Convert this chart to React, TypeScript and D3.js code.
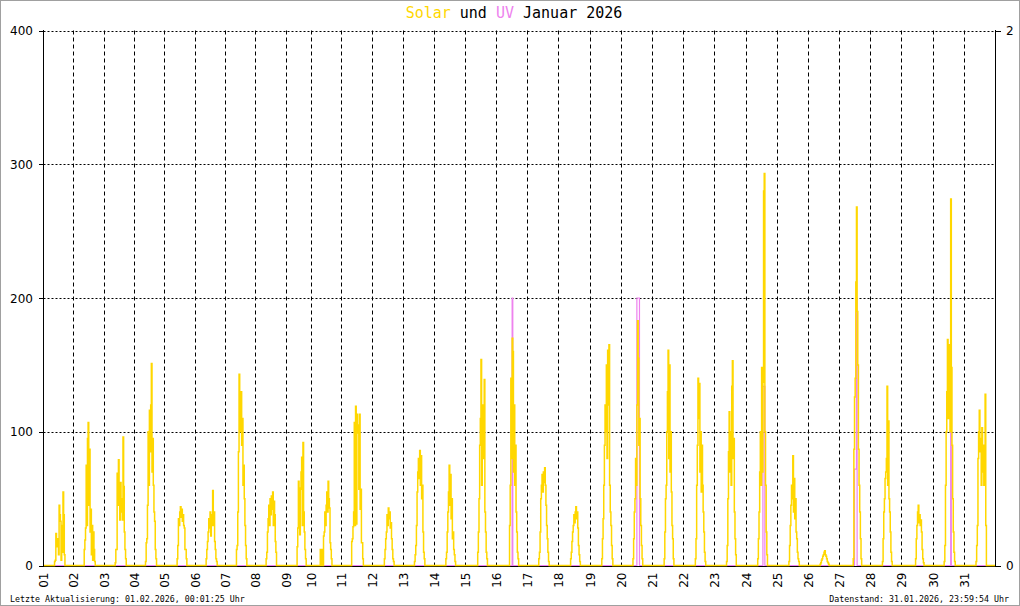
import React, { useEffect, useRef } from 'react';
import * as d3 from 'd3';

// day tick labels (gridline at the start of each day)
const dayLabels = [
  '01', '02', '03', '04', '05', '06', '07', '08', '09', '10', '11', '12', '13', '14', '15', '16',
  '17', '18', '19', '20', '21', '22', '23', '24', '25', '26', '27', '28', '29', '30', '31',
];

// number of 10-minute records stored per day (some days are incomplete)
const recordsPerDay = [
  140, 140, 140, 140, 140, 140, 140, 140, 116, 142, 142, 142, 142, 144, 144, 144,
  144, 144, 144, 144, 144, 144, 144, 144, 144, 144, 144, 144, 144, 144, 144,
];

const leftTicks = [0, 100, 200, 300, 400];
const rightTicks = [0, 2];

// solar radiation W/m², half-hour steps starting 07:00 each day
const solar: number[][] = [
  [0, 0, 0, 3, 4, 24, 14, 18, 20, 8, 45, 38, 33, 4, 30, 10, 55, 38, 8, 0],
  [0, 0, 12, 19, 28, 75, 30, 95, 107, 45, 87, 25, 42, 8, 30, 4, 25, 12, 3, 0],
  [0, 0, 0, 2, 12, 12, 69, 45, 79, 62, 34, 62, 40, 50, 34, 96, 59, 25, 12, 5, 0],
  [0, 0, 0, 3, 17, 20, 45, 100, 60, 116, 85, 120, 151, 70, 95, 60, 40, 33, 12, 5, 0],
  [0, 0, 0, 0, 0, 5, 15, 35, 30, 40, 44, 36, 42, 33, 38, 30, 28, 12, 12, 5, 0],
  [0, 0, 0, 5, 12, 18, 25, 35, 28, 40, 22, 30, 38, 56, 30, 40, 18, 12, 5, 3, 0],
  [0, 0, 0, 12, 15, 40, 85, 143, 120, 100, 130, 90, 110, 60, 75, 50, 30, 15, 5, 0],
  [0, 0, 5, 10, 25, 35, 45, 30, 50, 38, 52, 42, 55, 30, 48, 38, 18, 10, 0],
  [0, 0, 0, 14, 28, 63, 58, 23, 57, 70, 81, 30, 92, 40, 25, 12, 5, 0],
  [12, 0, 12, 10, 0, 22, 25, 40, 30, 45, 55, 40, 63, 50, 43, 17, 12, 5, 0],
  [0, 18, 20, 29, 40, 107, 30, 119, 31, 113, 99, 105, 57, 113, 42, 57, 17, 17, 5, 0],
  [0, 0, 0, 0, 5, 12, 20, 25, 38, 30, 43, 35, 40, 28, 32, 20, 12, 5, 3, 0],
  [0, 0, 0, 3, 8, 15, 30, 55, 70, 80, 65, 86, 60, 82, 50, 60, 25, 10, 5, 0],
  [0, 0, 0, 0, 5, 10, 25, 40, 55, 75, 45, 68, 35, 50, 20, 25, 12, 8, 3, 0],
  [0, 0, 0, 0, 0, 10, 25, 50, 90, 110, 154, 60, 120, 80, 100, 139, 40, 25, 10, 5, 0],
  [0, 0, 0, 0, 0, 0, 30, 60, 140, 80, 170, 160, 70, 120, 60, 90, 40, 25, 10, 5, 0],
  [0, 0, 0, 5, 10, 25, 50, 60, 68, 55, 70, 62, 73, 60, 45, 30, 20, 10, 3, 0],
  [0, 0, 0, 0, 5, 10, 18, 25, 30, 38, 32, 40, 44, 35, 40, 28, 15, 8, 3, 0],
  [0, 0, 0, 0, 5, 20, 35, 60, 90, 120, 100, 150, 80, 161, 120, 165, 60, 40, 30, 15, 5, 0],
  [0, 0, 0, 0, 5, 20, 40, 50, 80, 60, 120, 183, 155, 90, 110, 50, 30, 15, 5, 0],
  [0, 0, 0, 0, 5, 25, 50, 60, 100, 130, 161, 80, 150, 70, 100, 55, 30, 20, 5, 0],
  [0, 0, 0, 0, 5, 20, 60, 90, 140, 110, 136, 70, 100, 55, 90, 60, 40, 25, 10, 3, 0],
  [0, 0, 0, 0, 3, 15, 50, 85, 115, 70, 100, 60, 134, 153, 80, 95, 40, 20, 8, 0],
  [0, 0, 0, 0, 5, 20, 40, 70, 100, 60, 148, 70, 137, 280, 293, 100, 60, 25, 8, 0],
  [0, 0, 0, 0, 3, 15, 30, 45, 60, 50, 82, 40, 65, 35, 50, 25, 20, 10, 5, 3, 0],
  [0, 0, 0, 0, 1, 2, 4, 5, 7, 8, 10, 11, 8, 7, 5, 3, 2, 1, 0],
  [0, 0, 0, 0, 0, 0, 0, 5, 87, 126, 140, 212, 268, 190, 150, 87, 60, 40, 20, 5, 0],
  [0, 0, 0, 0, 3, 20, 40, 50, 65, 70, 80, 134, 60, 108, 50, 40, 25, 10, 3, 0],
  [0, 0, 0, 0, 0, 0, 0, 5, 20, 30, 40, 45, 32, 38, 30, 34, 25, 12, 5, 2, 0],
  [0, 0, 0, 3, 15, 60, 100, 130, 169, 110, 150, 165, 100, 274, 148, 90, 50, 25, 10, 3, 0],
  [0, 0, 0, 0, 3, 15, 30, 80, 100, 116, 85, 95, 60, 103, 70, 90, 60, 80, 128, 30, 0],
];

// UV index, same half-hour steps from 07:00 (empty = 0 all day)
const uv: number[][] = [
  [], [], [], [], [], [], [], [], [], [], [], [], [], [], [],
  [0, 0, 0, 0, 0, 0, 0, 0, 0, 0, 1.0, 0],
  [], [], [],
  [0, 0, 0, 0, 0, 0, 0, 0, 0, 0, 1.0, 1.0, 1.0, 1.0, 0],
  [], [], [],
  [0, 0, 0, 0, 0, 0, 0, 0, 0, 0, 0, 0, 0.67, 0.67, 0.67, 0],
  [], [],
  [0, 0, 0, 0, 0, 0, 0, 0, 0, 0.36, 0.36, 0.36, 1.0, 0],
  [], [],
  [0, 0, 0, 0, 0, 0, 0, 0, 0, 0, 0, 0, 0, 0.5, 0],
  [],
];

const FIRST_HOUR = 7;
const STEP_HOURS = 0.5;
const RECORDS_PER_HOUR = 6;

const W = 1020;
const H = 606;
const YELLOW = '#FFD700';
const VIOLET = '#EE82EE';

interface Pt { t: number; v: number; }

const dayStarts: number[] = [];
recordsPerDay.forEach((n, i) => dayStarts.push(i === 0 ? 0 : dayStarts[i - 1] + recordsPerDay[i - 1]));
const totalRecords = d3.sum(recordsPerDay);

function buildSeries(values: number[][]): Pt[] {
  const pts: Pt[] = [{ t: 0, v: 0 }];
  values.forEach((day, d) => {
    day.forEach((v, i) => {
      pts.push({ t: dayStarts[d] + (FIRST_HOUR + i * STEP_HOURS) * RECORDS_PER_HOUR, v });
    });
  });
  pts.push({ t: totalRecords, v: 0 });
  return pts;
}

const App: React.FC = () => {
  const svgRef = useRef<SVGSVGElement>(null);

  useEffect(() => {
    if (!svgRef.current) return;
    const svg = d3.select(svgRef.current);
    svg.selectAll('*').remove();

    const left = 43.5, right = 995.5, top = 30.5, bottom = 565.5;

    const x = d3.scaleLinear().domain([0, totalRecords]).range([left, right]);
    const y = d3.scaleLinear().domain([0, 400]).range([bottom, top]);
    const yUv = d3.scaleLinear().domain([0, 2]).range([bottom, top]);
    const crisp = (v: number) => Math.floor(v) + 0.5;

    svg.append('rect').attr('width', W).attr('height', H).attr('fill', '#fff');
    svg.append('rect')
      .attr('x', 0.5).attr('y', 0.5).attr('width', W - 1).attr('height', H - 1)
      .attr('fill', 'none').attr('stroke', '#a0a0a0');

    // Title
    const title = svg.append('text')
      .attr('x', 514).attr('y', 18)
      .attr('text-anchor', 'middle')
      .style('font-family', 'DejaVu Sans Mono')
      .style('font-size', '15px')
      .style('white-space', 'pre');
    title.append('tspan').attr('fill', YELLOW).text('Solar');
    title.append('tspan').attr('fill', '#000').text(' und ');
    title.append('tspan').attr('fill', VIOLET).text('UV');
    title.append('tspan').attr('fill', '#000').text(' Januar 2026');

    // Grid lines
    const grid = svg.append('g');
    grid.selectAll('.hgrid')
      .data(leftTicks.filter(t => t > 0))
      .enter().append('line')
      .attr('x1', left).attr('x2', right)
      .attr('y1', d => crisp(y(d) + 0.5)).attr('y2', d => crisp(y(d) + 0.5))
      .attr('stroke', '#000').attr('stroke-dasharray', '2,2');

    grid.selectAll('.vgrid')
      .data(dayStarts.slice(1))
      .enter().append('line')
      .attr('x1', d => crisp(x(d))).attr('x2', d => crisp(x(d)))
      .attr('y1', top).attr('y2', bottom + 1)
      .attr('stroke', '#000').attr('stroke-dasharray', '4,3');

    // Bottom axis sits one pixel under the zero line of the data
    svg.append('line')
      .attr('x1', left).attr('x2', right)
      .attr('y1', bottom + 1).attr('y2', bottom + 1)
      .attr('stroke', '#000');

    // UV line (right axis)
    const uvLine = d3.line<Pt>()
      .x(d => x(d.t))
      .y(d => yUv(d.v))
      .curve(d3.curveStepAfter);
    svg.append('path')
      .datum(buildSeries(uv))
      .attr('fill', 'none')
      .attr('stroke', VIOLET)
      .attr('stroke-width', 1.2)
      .attr('d', uvLine);

    // Solar line (left axis)
    const solarLine = d3.line<Pt>()
      .x(d => x(d.t))
      .y(d => y(d.v))
      .curve(d3.curveStepAfter);
    svg.append('path')
      .datum(buildSeries(solar))
      .attr('fill', 'none')
      .attr('stroke', YELLOW)
      .attr('stroke-width', 1.5)
      .attr('d', solarLine);

    // Axes
    const axes = svg.append('g').attr('stroke', '#000').attr('shape-rendering', 'crispEdges');
    axes.append('line').attr('x1', left).attr('x2', left).attr('y1', top - 0.5).attr('y2', bottom + 1.5);
    axes.append('line').attr('x1', right).attr('x2', right).attr('y1', top - 0.5).attr('y2', bottom + 1.5);

    axes.selectAll('.lt')
      .data(leftTicks)
      .enter().append('line')
      .attr('x1', left - 5).attr('x2', left)
      .attr('y1', d => crisp(y(d) + 0.5)).attr('y2', d => crisp(y(d) + 0.5));
    axes.selectAll('.rt')
      .data(rightTicks)
      .enter().append('line')
      .attr('x1', right).attr('x2', right + 5)
      .attr('y1', d => crisp(yUv(d) + 0.5)).attr('y2', d => crisp(yUv(d) + 0.5));

    const labelFont = (sel: d3.Selection<SVGTextElement, any, any, any>) =>
      sel.style('font-family', 'DejaVu Sans').style('font-size', '12px').attr('fill', '#000');

    svg.selectAll('.ll')
      .data(leftTicks)
      .enter().append('text')
      .attr('x', 33).attr('y', d => y(d) + 0.5)
      .attr('text-anchor', 'end').attr('dominant-baseline', 'central')
      .call(labelFont)
      .text(d => d);

    svg.selectAll('.rl')
      .data(rightTicks)
      .enter().append('text')
      .attr('x', 1006).attr('y', d => yUv(d) + 0.5)
      .attr('text-anchor', 'start').attr('dominant-baseline', 'central')
      .call(labelFont)
      .text(d => d);

    svg.selectAll('.dl')
      .data(dayLabels)
      .enter().append('text')
      .attr('transform', (d, i) => `translate(${crisp(x(dayStarts[i])) + 0.5},${bottom + 7}) rotate(-90)`)
      .attr('text-anchor', 'end').attr('dominant-baseline', 'central')
      .call(labelFont)
      .text(d => d);

    // Footer
    const foot = (sel: d3.Selection<SVGTextElement, any, any, any>) =>
      sel.style('font-family', 'DejaVu Sans Mono').style('font-size', '8.3px').attr('fill', '#000');
    svg.append('text')
      .attr('x', 10).attr('y', 602)
      .call(foot)
      .text('Letzte Aktualisierung: 01.02.2026, 00:01:25 Uhr');
    svg.append('text')
      .attr('x', 1009).attr('y', 602)
      .attr('text-anchor', 'end')
      .call(foot)
      .text('Datenstand: 31.01.2026, 23:59:54 Uhr');
  }, []);

  return (
    <svg
      ref={svgRef}
      width={W}
      height={H}
      style={{ position: 'absolute', left: 0, top: 0, display: 'block' }}
    />
  );
};

export default App;
